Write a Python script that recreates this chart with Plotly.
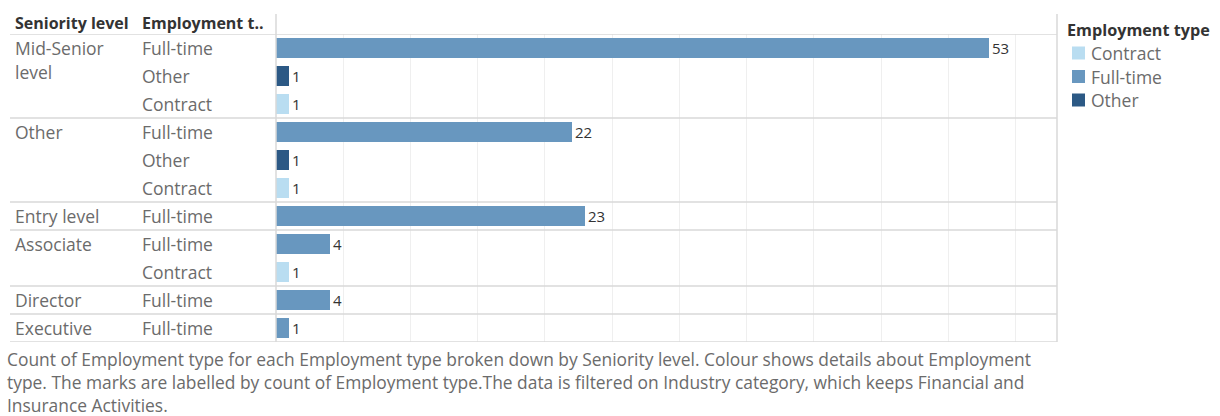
import plotly.graph_objects as go

# ---- data ----
seniority = ["Mid-Senior level", "Mid-Senior level", "Mid-Senior level",
             "Other", "Other", "Other",
             "Entry level",
             "Associate", "Associate",
             "Director",
             "Executive"]
emp_type = ["Full-time", "Other", "Contract",
            "Full-time", "Other", "Contract",
            "Full-time",
            "Full-time", "Contract",
            "Full-time",
            "Full-time"]
counts = [53, 1, 1, 22, 1, 1, 23, 4, 1, 4, 1]
seniority_display = {"Mid-Senior level": ["Mid-Senior", "level"]}
legend_order = ["Contract", "Full-time", "Other"]
colors = {"Contract": "#b9ddf1", "Full-time": "#6897bf", "Other": "#2c5985"}

W, H = 1220, 416
FONT = "Open Sans"
px_x = lambda p: p / W
px_y = lambda p: 1 - p / H

PLOT_L, PLOT_R, PLOT_T, PLOT_B = 276, 1057, 34, 342
n = len(counts)
rows = list(range(n))

fig = go.Figure()
for et in legend_order:
    idx = [i for i in rows if emp_type[i] == et]
    fig.add_trace(go.Bar(
        x=[counts[i] for i in idx], y=idx, orientation="h", name=et,
        marker=dict(color=colors[et], line=dict(width=0)),
        width=0.74,
        text=[str(counts[i]) for i in idx], textposition="outside",
        textfont=dict(family=FONT, size=15, color="#333333"),
        cliponaxis=False, hoverinfo="x+name", showlegend=False,
    ))

shapes = []
annotations = []
line_col = "#d9d9d9"
# group boundaries
bounds = [-0.5]
for i in range(1, n):
    if seniority[i] != seniority[i - 1]:
        bounds.append(i - 0.5)
bounds.append(n - 0.5)
for b in bounds:
    shapes.append(dict(type="line", xref="paper", yref="y", x0=px_x(10), x1=px_x(PLOT_R),
                       y0=b, y1=b, line=dict(color=line_col, width=1.5)))
# vertical lines
shapes.append(dict(type="line", xref="paper", yref="paper", x0=px_x(PLOT_L), x1=px_x(PLOT_L),
                   y0=px_y(14), y1=px_y(PLOT_B), line=dict(color=line_col, width=1.5)))
shapes.append(dict(type="line", xref="paper", yref="paper", x0=px_x(PLOT_R), x1=px_x(PLOT_R),
                   y0=px_y(14), y1=px_y(PLOT_B), line=dict(color=line_col, width=1.5)))

# headers
hdr_font = dict(family=FONT, size=16, color="#333333")
annotations.append(dict(text="<b>Seniority level</b>", xref="paper", yref="paper", x=px_x(13), y=px_y(23),
                        xanchor="left", yanchor="middle", showarrow=False, font=hdr_font))
annotations.append(dict(text="<b>Employment t..</b>", xref="paper", yref="paper", x=px_x(140), y=px_y(23),
                        xanchor="left", yanchor="middle", showarrow=False, font=hdr_font))

# row labels
lab_col = "#6b6b6b"
lab_font = dict(family=FONT, size=17.5, color=lab_col)
for i in rows:
    if i == 0 or seniority[i] != seniority[i - 1]:
        parts = seniority_display.get(seniority[i], [seniority[i]])
        for k, part in enumerate(parts):
            annotations.append(dict(text=part, xref="paper", yref="y", x=px_x(13), y=i + k * 0.857,
                                    xanchor="left", yanchor="middle", showarrow=False, font=lab_font))
    annotations.append(dict(text=emp_type[i], xref="paper", yref="y", x=px_x(140), y=i,
                            xanchor="left", yanchor="middle", showarrow=False, font=lab_font))

# legend (drawn manually to match Tableau layout)
annotations.append(dict(text="<b>Employment type</b>", xref="paper", yref="paper", x=px_x(1065), y=px_y(30),
                        xanchor="left", yanchor="middle", showarrow=False,
                        font=dict(family=FONT, size=16.2, color="#333333")))
for k, et in enumerate(legend_order):
    cy = 53 + 23.5 * k
    shapes.append(dict(type="rect", xref="paper", yref="paper",
                       x0=px_x(1072), x1=px_x(1085), y0=px_y(cy - 6.5), y1=px_y(cy + 6.5),
                       fillcolor=colors[et], line=dict(width=0)))
    annotations.append(dict(text=et, xref="paper", yref="paper", x=px_x(1089), y=px_y(cy),
                            xanchor="left", yanchor="middle", showarrow=False, font=lab_font))

caption = ["Count of Employment type for each Employment type broken down by Seniority level. Colour shows details about Employment",
           "type. The marks are labelled by count of Employment type.The data is filtered on Industry category, which keeps Financial and",
           "Insurance Activities."]
cap_font = dict(family=FONT, size=17.4, color=lab_col)
for k, line in enumerate(caption):
    annotations.append(dict(text=line, xref="paper", yref="paper", x=px_x(5), y=px_y(359 + 23 * k),
                            xanchor="left", yanchor="middle", showarrow=False, font=cap_font))

fig.update_layout(
    width=W, height=H, margin=dict(l=0, r=0, t=0, b=0),
    paper_bgcolor="white", plot_bgcolor="white",
    barmode="overlay", bargap=0,
    font=dict(family=FONT),
    xaxis=dict(domain=[px_x(PLOT_L), px_x(PLOT_R)], range=[0, 58.07], dtick=5, tick0=0,
               showgrid=True, gridcolor="#efefef", gridwidth=1, zeroline=False,
               showticklabels=False, ticks="", showline=False, fixedrange=True),
    yaxis=dict(domain=[px_y(PLOT_B), px_y(PLOT_T)], range=[n - 0.5, -0.5],
               showgrid=False, zeroline=False, showticklabels=False, ticks="", showline=False,
               fixedrange=True),
    showlegend=False,
    shapes=shapes, annotations=annotations,
)

fig.write_html("out.html")
